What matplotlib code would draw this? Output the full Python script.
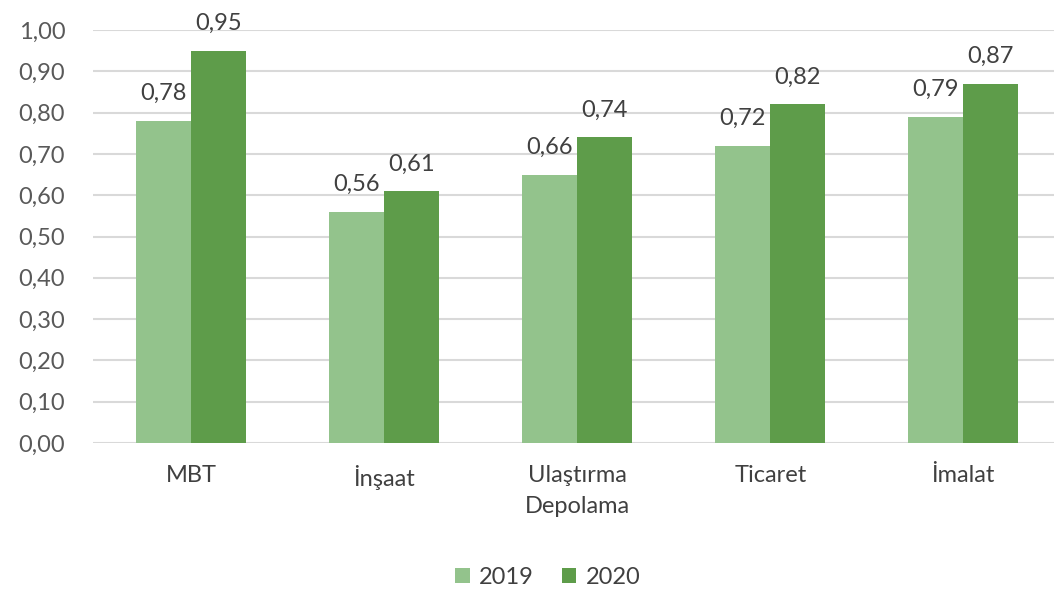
import numpy as np
import matplotlib.pyplot as plt

categories = ['MBT', 'İnşaat', 'Ulaştırma\nDepolama', 'Ticaret', 'İmalat']
values_2019 = [0.78, 0.56, 0.65, 0.72, 0.79]
values_2020 = [0.95, 0.61, 0.74, 0.82, 0.87]
labels_2019 = ['0,78', '0,56', '0,66', '0,72', '0,79']
labels_2020 = ['0,95', '0,61', '0,74', '0,82', '0,87']
yticks = np.arange(0, 1.01, 0.1)

plt.rcParams['font.family'] = ['Lato', 'DejaVu Sans']

fig = plt.figure(figsize=(10.54, 5.95), dpi=100)
ax = fig.add_axes([93 / 1054, 1 - 443 / 595, (1054 - 93) / 1054, 413 / 595])

x = np.arange(len(categories))
w = 0.285
light = '#93c38c'
dark = '#5e9c4a'
ax.bar(x - w / 2, values_2019, w, color=light, label='2019', zorder=3)
ax.bar(x + w / 2, values_2020, w, color=dark, label='2020', zorder=3)

fs = 17
for xi, v, t in zip(x, values_2019, labels_2019):
    ax.text(xi - w / 2, v + 0.04, t, ha='center', va='bottom', fontsize=fs, color='#404040')
for xi, v, t in zip(x, values_2020, labels_2020):
    ax.text(xi + w / 2, v + 0.04, t, ha='center', va='bottom', fontsize=fs, color='#404040')

ax.set_xlim(-0.51, 4.47)
ax.set_ylim(0, 1.0)
ax.set_yticks(yticks)
ax.set_yticklabels([f'{v:.2f}'.replace('.', ',') for v in yticks], fontsize=fs, color='#595959')
ax.set_xticks(x)
ax.set_xticklabels(categories, fontsize=fs, color='#404040', linespacing=1.6)
ax.tick_params(axis='y', length=0, pad=20)
ax.tick_params(axis='x', length=0, pad=16)
ax.grid(axis='y', color='#d9d9d9', linewidth=1.5, zorder=0)
for s in ax.spines.values():
    s.set_visible(False)

fig.legend(loc='center', bbox_to_anchor=(0.52, 1 - 577 / 595), ncol=2, frameon=False,
           fontsize=fs, handlelength=0.6, handleheight=0.6, handletextpad=0.4,
           columnspacing=1.2, labelcolor='#404040')

fig.savefig('out.png', dpi=100)
